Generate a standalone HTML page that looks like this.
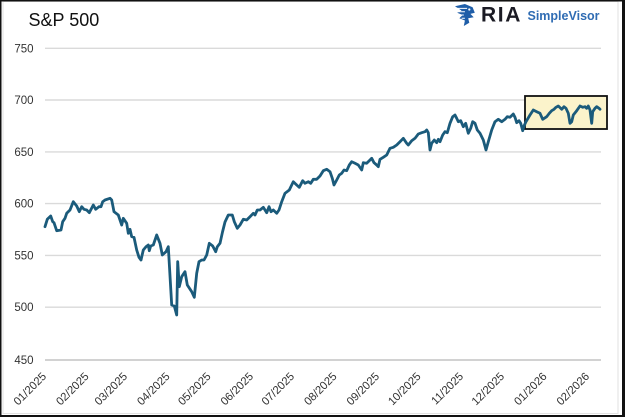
<!DOCTYPE html>
<html>
<head>
<meta charset="utf-8">
<style>
html,body{margin:0;padding:0;background:#fff;}
body{width:625px;height:417px;overflow:hidden;}
svg{display:block;}
</style>
</head>
<body>
<svg width="625" height="417" viewBox="0 0 625 417" xmlns="http://www.w3.org/2000/svg">
  <rect x="0" y="0" width="625" height="417" fill="#fff"/>
  <!-- inner faint frame -->
  <rect x="3" y="1.5" width="615" height="412" fill="none" stroke="#e2e2e2" stroke-width="1"/>
  <!-- outer border -->
  <rect x="0" y="0" width="625" height="1.5" fill="#111"/>
  <rect x="0" y="0" width="1.5" height="417" fill="#111"/>
  <rect x="622" y="0" width="3" height="417" fill="#111"/>
  <rect x="0" y="415" width="625" height="2" fill="#111"/>

  <!-- title -->
  <text x="28.5" y="26" font-family="Liberation Sans, Arial, sans-serif" font-size="18" fill="#111">S&amp;P 500</text>

  <!-- logo -->
  <g transform="translate(455,4) scale(1.1)">
    <path d="M0,2 L9,0 L16,3 L18,8 L14,9 L17,12 L12,13 L13,17 L8,20 L9,15 L4,13 L7,10 L2,8 L6,6 Z" fill="#1f5ea8"/>
    <path d="M1,4 L11,4 M2,7 L9,7 M4,10 L8,10 M6,13 L9,13" stroke="#fff" stroke-width="0.9"/>
    <circle cx="13" cy="5" r="1" fill="#fff"/>
  </g>
  <text x="481" y="21.5" font-family="Liberation Sans, Arial, sans-serif" font-size="21" font-weight="bold" letter-spacing="1.6" fill="#1b1b24">RIA</text>
  <text x="527.5" y="20" font-family="Liberation Sans, Arial, sans-serif" font-size="12.5" font-weight="bold" fill="#2f6cb3">SimpleVisor</text>

  <!-- gridlines -->
  <g stroke="#dadada" stroke-width="1.4">
    <line x1="45" y1="48.3" x2="601" y2="48.3"/>
    <line x1="45" y1="100" x2="601" y2="100"/>
    <line x1="45" y1="151.9" x2="601" y2="151.9"/>
    <line x1="45" y1="203.6" x2="601" y2="203.6"/>
    <line x1="45" y1="255.4" x2="601" y2="255.4"/>
    <line x1="45" y1="307.2" x2="601" y2="307.2"/>
  </g>
  <line x1="45" y1="360" x2="601" y2="360" stroke="#d2d2d2" stroke-width="2"/>

  <!-- y labels -->
  <g font-family="Liberation Sans, Arial, sans-serif" font-size="11.5" fill="#333" text-anchor="end">
    <text x="33.5" y="52.3">750</text>
    <text x="33.5" y="104">700</text>
    <text x="33.5" y="155.9">650</text>
    <text x="33.5" y="207.6">600</text>
    <text x="33.5" y="259.4">550</text>
    <text x="33.5" y="311.2">500</text>
    <text x="33.5" y="364">450</text>
  </g>

  <!-- x labels -->
  <g font-family="Liberation Sans, Arial, sans-serif" font-size="11.3" fill="#333" text-anchor="end">
    <text transform="translate(47,377) rotate(-45)">01/2025</text>
    <text transform="translate(89.5,377) rotate(-45)">02/2025</text>
    <text transform="translate(128,377) rotate(-45)">03/2025</text>
    <text transform="translate(170.5,377) rotate(-45)">04/2025</text>
    <text transform="translate(211.5,377) rotate(-45)">05/2025</text>
    <text transform="translate(254,377) rotate(-45)">06/2025</text>
    <text transform="translate(295,377) rotate(-45)">07/2025</text>
    <text transform="translate(337.5,377) rotate(-45)">08/2025</text>
    <text transform="translate(380,377) rotate(-45)">09/2025</text>
    <text transform="translate(421.5,377) rotate(-45)">10/2025</text>
    <text transform="translate(464,377) rotate(-45)">11/2025</text>
    <text transform="translate(505,377) rotate(-45)">12/2025</text>
    <text transform="translate(547.5,377) rotate(-45)">01/2026</text>
    <text transform="translate(590,377) rotate(-45)">02/2026</text>
  </g>

  <!-- highlight box -->
  <rect x="525" y="96" width="82" height="33" fill="#fbf3cb" stroke="#111" stroke-width="1.8"/>

  <!-- series -->
  <polyline fill="none" stroke="#1b5b7b" stroke-width="2.8" stroke-linejoin="round" stroke-linecap="round" points="
45,226.7 47.3,219.3 50.7,216 52.7,221.7 54,222.7 56.7,230.7 61,230 62.7,221.7 65,218.3 66.7,213.3 70,210 73.3,201.7 76.7,206 79.3,211.7 81.7,206.7 84,209.3 86.7,210 89.3,212.7 93.3,205 95.7,209.3 99,206.7 101,206.7 102.7,201.7 105,200 110,198.3 111.7,200 114,211.7 118.3,215 121.7,225 123.3,218.3 126.7,223.3 128.3,233.3 130,229.3 131.7,236.7 134,237.3 136.7,250 139,257.3 141,260 143.3,250 146,246.7 148.3,245 149.3,250.7 150.7,246 153.3,245 156.7,235 160,243.3 162.3,255 166,251.7 168.3,246.7 171.7,305 174.3,306 176.7,315 177.7,261.7 179.3,286.7 181.7,276.7 185,271.7 187.3,285 191.7,291.7 194.3,297.3 196.7,273.3 199,261.7 201.7,260 204,260 206.7,255 209.3,243.3 212.7,246 215.7,251.7 217.3,246.7 220,243.3 222.5,232 225,222 228.3,215 232.3,215 234.3,221.7 237.3,228.3 240,225 243.3,219.3 246.7,220 250,216.7 253.3,213.3 255,215 257.3,210 260,210 263.3,207.3 265,210 266.7,212.7 269,206.7 271,211.7 273.3,210 276.7,213.3 279,210 281.7,201.7 285,193.3 289.3,190 293.3,181.7 296.7,185 299.3,187.3 302.7,180.7 305,183.3 308.3,181.7 310.7,183.3 313.3,179.3 316.7,179.3 320,176 323.3,170.7 326.7,169.3 330,171.7 332.3,178.3 334,185 336.7,180 339.3,175 341.7,173.3 344,170 346.7,170.7 349.3,165 351.7,161.7 355,163.3 358.3,165 361.7,170 363.3,162.7 366.7,163.3 370,160 371.7,158.3 374,162.7 376.7,165 378.3,166.7 380,159.3 383.3,157.3 386.7,155 390,148.3 393.3,147.3 396.7,145 400,141.7 403.3,138.3 406.7,143.3 408.3,145 411.7,140.7 415,138.3 418.3,134 421.7,132.7 425,131.7 426.7,130 428.3,132.7 430,150 431.7,143.3 434.3,140 436.7,142.7 438.3,139.3 440,141.7 442.7,135 445,131.7 447.3,132.7 450,123.3 452.7,116.7 455,115 456.7,118.3 458.3,121.7 460.7,120.7 463.3,126.7 465.7,123.3 468.3,133.3 470.7,128.3 472.7,121.7 475,123.3 477.3,130 480,133.3 483.3,140 486,150 488.3,141.7 491.7,130 495,121.7 498.3,119.3 501.7,121.7 505,119.3 507.3,116.7 510,117.3 513.3,114 515,117.3 516.7,122.7 519,120.7 520.7,123.3 522.7,130.7 524,126 526,121.7 530,115 533.3,110 536.7,111.7 540,113.3 542.7,119.3 546.7,116.7 549.3,113.3 551.7,110.7 554,109.3 556,107.3 558.3,106 561.7,109.3 564,106.7 566,108.3 568.3,113.3 570,123.3 571.7,121.7 573.3,115 576.7,110.7 580,106 582.7,107.3 585,106.7 586.7,108.3 588.3,106 590,110 591.7,123.3 592.7,111.7 595,108.3 596.7,106.7 599,108.3 600,109.3"/>
</svg>
</body>
</html>
